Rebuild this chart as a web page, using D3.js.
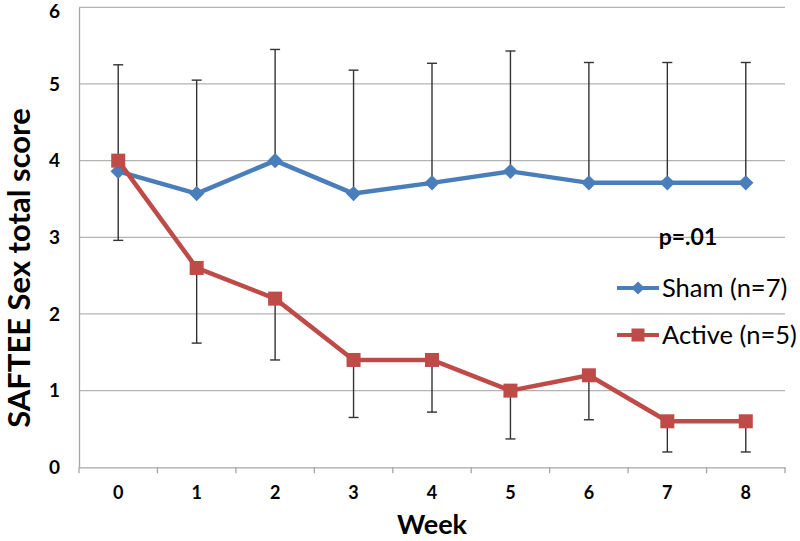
<!DOCTYPE html>
<html><head><meta charset="utf-8">
<script src="https://cdn.jsdelivr.net/npm/d3@7"></script>
<style>body{margin:0;background:#fff}svg{display:block}</style>
</head><body>
<svg id="c" width="800" height="541"></svg>
<script>
const weeks = ["0","1","2","3","4","5","6","7","8"];
const shamMean = [3.86, 3.57, 4.00, 3.57, 3.71, 3.86, 3.71, 3.71, 3.71];
const shamUpper = [5.25, 5.05, 5.45, 5.18, 5.27, 5.43, 5.28, 5.28, 5.28];
const activeMean = [4.0, 2.6, 2.2, 1.4, 1.4, 1.0, 1.2, 0.6, 0.6];
const activeLower = [2.96, 1.62, 1.40, 0.65, 0.72, 0.37, 0.62, 0.20, 0.20];
const yTicks = [0,1,2,3,4,5,6];
const seriesNames = ["Sham (n=7)", "Active (n=5)"];
const colors = ["#4A7EBB", "#BE4B48"];

const svg = d3.select("#c");
const font = "Lato, 'Open Sans', sans-serif";
const L = 79, R = 785, T = 7.3, B = 467.3;
const x = d3.scaleBand().domain(weeks).range([L, R]);
const y = d3.scaleLinear().domain([0, 6]).range([B, T]);
const cx = w => x(w) + x.bandwidth()/2;

// gridlines
svg.append("g").selectAll("line").data(yTicks.slice(1)).join("line")
  .attr("x1", L).attr("x2", R).attr("y1", d => y(d)).attr("y2", d => y(d))
  .attr("stroke", "#b3b3b3").attr("stroke-width", 1.3);

// y axis
const ya = svg.append("g").attr("transform", `translate(${L},0)`)
  .call(d3.axisLeft(y).tickValues(yTicks).tickSize(0).tickPadding(19).tickFormat(d3.format("d")));
ya.select(".domain").attr("stroke", "#a6a6a6").attr("stroke-width", 1.3);
ya.selectAll("text").attr("font-family", font).attr("font-weight", "bold").attr("font-size", 19).attr("fill", "#000")
  .attr("dy", d => d === 6 ? "0.55em" : "0.32em");

// x axis
const xa = svg.append("g").attr("transform", `translate(0,${B})`)
  .call(d3.axisBottom(x).tickSize(0).tickPadding(19));
xa.select(".domain").attr("stroke", "#a6a6a6").attr("stroke-width", 1.3);
xa.selectAll("text").attr("font-family", font).attr("font-weight", "bold").attr("font-size", 18).attr("fill", "#000");
const bounds = weeks.map(w => x(w)).concat([R]);
xa.append("g").selectAll("line").data(bounds).join("line")
  .attr("x1", d => d).attr("x2", d => d).attr("y1", 0).attr("y2", 6)
  .attr("stroke", "#a6a6a6").attr("stroke-width", 1.3);

// error bars
function errBars(means, ends) {
  const g = svg.append("g").attr("stroke", "#333").attr("stroke-width", 1.4);
  weeks.forEach((w, i) => {
    g.append("line").attr("x1", cx(w)).attr("x2", cx(w)).attr("y1", y(means[i])).attr("y2", y(ends[i]));
    g.append("line").attr("x1", cx(w) - 5).attr("x2", cx(w) + 5).attr("y1", y(ends[i])).attr("y2", y(ends[i]));
  });
}
errBars(shamMean, shamUpper);
errBars(activeMean, activeLower);

const line = d3.line().x((d, i) => cx(weeks[i])).y(d => y(d));
// sham
svg.append("path").datum(shamMean).attr("d", line).attr("fill", "none")
  .attr("stroke", colors[0]).attr("stroke-width", 4.5).attr("stroke-linejoin", "round");
svg.append("g").selectAll("path").data(shamMean).join("path")
  .attr("d", d3.symbol(d3.symbolDiamond2, 150))
  .attr("transform", (d, i) => `translate(${cx(weeks[i])},${y(d)})`)
  .attr("fill", colors[0]);
// active
svg.append("path").datum(activeMean).attr("d", line).attr("fill", "none")
  .attr("stroke", colors[1]).attr("stroke-width", 4.5).attr("stroke-linejoin", "round");
svg.append("g").selectAll("rect").data(activeMean).join("rect")
  .attr("x", (d, i) => cx(weeks[i]) - 7).attr("y", d => y(d) - 7)
  .attr("width", 14).attr("height", 14).attr("fill", colors[1]);

// annotation
svg.append("text").attr("x", 688).attr("y", 245).attr("text-anchor", "middle")
  .attr("font-family", font).attr("font-weight", "bold").attr("font-size", 23).text("p=.01");

// legend
const leg = [{y: 288, name: seriesNames[0], c: colors[0], m: "d"}, {y: 335, name: seriesNames[1], c: colors[1], m: "s"}];
leg.forEach(l => {
  svg.append("line").attr("x1", 617).attr("x2", 659).attr("y1", l.y).attr("y2", l.y)
    .attr("stroke", l.c).attr("stroke-width", 4);
  if (l.m === "d") {
    svg.append("path").attr("d", d3.symbol(d3.symbolDiamond2, 110)).attr("transform", `translate(638,${l.y})`).attr("fill", l.c);
  } else {
    svg.append("rect").attr("x", 631.5).attr("y", l.y - 6.5).attr("width", 13).attr("height", 13).attr("fill", l.c);
  }
  svg.append("text").attr("x", 662).attr("y", l.y + 8.5).attr("font-family", font).attr("font-size", 25.5)
    .attr("fill", "#000").text(l.name);
});

// titles
svg.append("text").attr("x", 432).attr("y", 534).attr("text-anchor", "middle")
  .attr("font-family", font).attr("font-weight", "bold").attr("font-size", 27).text("Week");
svg.append("text").attr("transform", "translate(30,268) rotate(-90)").attr("text-anchor", "middle")
  .attr("font-family", font).attr("font-weight", "bold").attr("font-size", 31).text("SAFTEE Sex total score");
</script>
</body></html>
